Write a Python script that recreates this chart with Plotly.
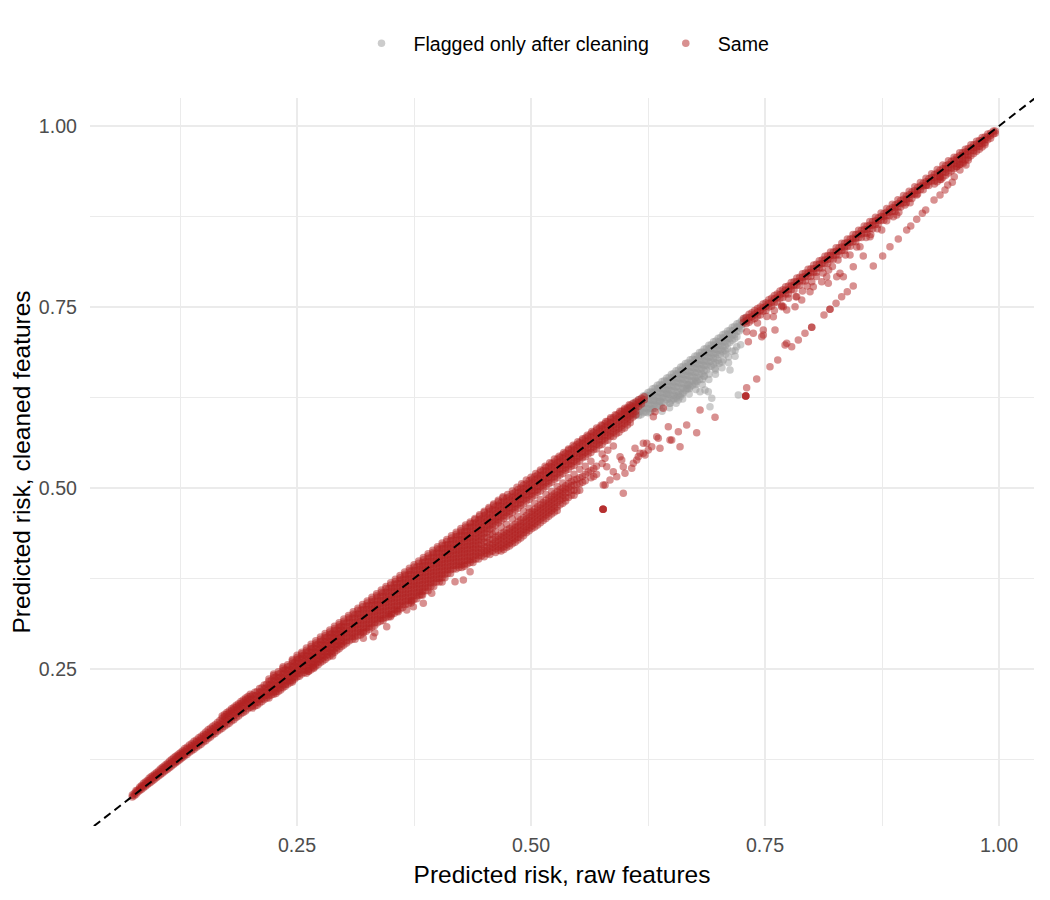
import plotly.graph_objects as go

# ---- "Same" points: dense band, one list of y values per x column ----
band_low_x = [0.074, 0.078, 0.082, 0.086, 0.090, 0.094, 0.098, 0.102, 0.106, 0.110,
              0.114, 0.118, 0.122, 0.126, 0.130, 0.135, 0.140, 0.145, 0.150, 0.155,
              0.160, 0.165, 0.170, 0.175, 0.180, 0.185, 0.190, 0.195, 0.200]
band_low_y = [
    [0.076, 0.073], [0.080, 0.077, 0.082], [0.085, 0.082, 0.087], [0.089, 0.086, 0.092],
    [0.093, 0.090, 0.096], [0.098, 0.094, 0.101], [0.102, 0.098, 0.105], [0.106, 0.102, 0.109],
    [0.111, 0.106, 0.114], [0.115, 0.110, 0.118], [0.119, 0.114, 0.123], [0.123, 0.118, 0.127],
    [0.128, 0.122, 0.131, 0.125], [0.132, 0.126, 0.135, 0.129], [0.136, 0.130, 0.140, 0.133],
    [0.141, 0.135, 0.145, 0.138], [0.146, 0.139, 0.150, 0.143], [0.151, 0.144, 0.155, 0.148],
    [0.157, 0.149, 0.160, 0.153], [0.162, 0.154, 0.166, 0.158], [0.167, 0.159, 0.171, 0.163],
    [0.172, 0.164, 0.176, 0.168], [0.177, 0.168, 0.182, 0.173, 0.185],
    [0.182, 0.173, 0.187, 0.178, 0.190], [0.188, 0.178, 0.192, 0.183, 0.195],
    [0.193, 0.183, 0.197, 0.188, 0.200], [0.198, 0.188, 0.202, 0.193, 0.205],
    [0.203, 0.192, 0.207, 0.198, 0.210], [0.208, 0.197, 0.212, 0.203, 0.215],
]
band_low_b_x = [0.076, 0.080, 0.084, 0.088, 0.092, 0.096, 0.100, 0.104, 0.108, 0.112,
                0.116, 0.120, 0.124, 0.128, 0.1325, 0.1375, 0.1425, 0.1475, 0.1525, 0.1575,
                0.1625, 0.1675, 0.1725, 0.1775, 0.1825, 0.1875, 0.1925, 0.1975]
band_low_b_y = [
    [0.078, 0.075], [0.083, 0.080], [0.087, 0.084, 0.089], [0.091, 0.088, 0.094],
    [0.096, 0.092, 0.099], [0.100, 0.096, 0.103], [0.104, 0.100, 0.107], [0.108, 0.104, 0.112],
    [0.113, 0.108, 0.116], [0.117, 0.112, 0.120], [0.121, 0.116, 0.125],
    [0.125, 0.120, 0.129, 0.122], [0.130, 0.124, 0.133, 0.127], [0.134, 0.128, 0.137, 0.131],
    [0.139, 0.132, 0.142, 0.135], [0.144, 0.137, 0.147, 0.140], [0.149, 0.142, 0.152, 0.145],
    [0.154, 0.146, 0.157, 0.150], [0.159, 0.151, 0.163, 0.155], [0.164, 0.156, 0.168, 0.160],
    [0.169, 0.161, 0.173, 0.165], [0.174, 0.166, 0.179, 0.170],
    [0.180, 0.171, 0.184, 0.175, 0.187], [0.185, 0.175, 0.189, 0.180, 0.192],
    [0.190, 0.180, 0.194, 0.185, 0.197], [0.195, 0.185, 0.199, 0.190, 0.202],
    [0.200, 0.190, 0.204, 0.195, 0.207], [0.205, 0.195, 0.209, 0.200, 0.212],
]

band_mid_x = [0.205, 0.210, 0.215, 0.220, 0.225, 0.230, 0.235, 0.240, 0.245, 0.250,
              0.255, 0.260, 0.265, 0.270, 0.275, 0.280, 0.285, 0.290, 0.295, 0.300]
band_mid_y = [
    [0.218, 0.213, 0.208, 0.203, 0.199],
    [0.223, 0.218, 0.213, 0.208, 0.203],
    [0.228, 0.223, 0.218, 0.213, 0.208],
    [0.233, 0.228, 0.223, 0.218, 0.213, 0.210],
    [0.238, 0.233, 0.228, 0.223, 0.218, 0.215],
    [0.243, 0.238, 0.233, 0.228, 0.223, 0.219],
    [0.248, 0.243, 0.238, 0.233, 0.228, 0.224],
    [0.253, 0.248, 0.243, 0.238, 0.233, 0.229],
    [0.258, 0.253, 0.248, 0.243, 0.238, 0.234],
    [0.263, 0.258, 0.253, 0.248, 0.243, 0.239],
    [0.268, 0.263, 0.258, 0.253, 0.248, 0.243],
    [0.273, 0.268, 0.263, 0.258, 0.253, 0.248, 0.244],
    [0.278, 0.273, 0.268, 0.263, 0.258, 0.253, 0.249],
    [0.283, 0.278, 0.273, 0.268, 0.263, 0.258, 0.254],
    [0.288, 0.283, 0.278, 0.273, 0.268, 0.263, 0.259],
    [0.293, 0.288, 0.283, 0.278, 0.273, 0.268, 0.263],
    [0.298, 0.293, 0.288, 0.283, 0.278, 0.273, 0.268],
    [0.303, 0.298, 0.293, 0.288, 0.283, 0.278, 0.273],
    [0.308, 0.303, 0.298, 0.293, 0.288, 0.283, 0.278],
    [0.313, 0.308, 0.303, 0.298, 0.293, 0.288, 0.283],
]
band_mid_b_x = [0.2025, 0.2075, 0.2125, 0.2175, 0.2225, 0.2275, 0.2325, 0.2375, 0.2425, 0.2475,
                0.2525, 0.2575, 0.2625, 0.2675, 0.2725, 0.2775, 0.2825, 0.2875, 0.2925, 0.2975]
band_mid_b_y = [
    [0.214, 0.209, 0.204, 0.199, 0.196],
    [0.219, 0.214, 0.209, 0.204, 0.200],
    [0.224, 0.219, 0.214, 0.209, 0.205],
    [0.229, 0.224, 0.219, 0.214, 0.210],
    [0.234, 0.229, 0.224, 0.219, 0.214],
    [0.239, 0.234, 0.229, 0.224, 0.219, 0.216],
    [0.244, 0.239, 0.234, 0.229, 0.224, 0.221],
    [0.249, 0.244, 0.239, 0.234, 0.229, 0.226],
    [0.254, 0.249, 0.244, 0.239, 0.234, 0.231],
    [0.259, 0.254, 0.249, 0.244, 0.239, 0.236],
    [0.264, 0.259, 0.254, 0.249, 0.244, 0.240],
    [0.269, 0.264, 0.259, 0.254, 0.249, 0.245],
    [0.274, 0.269, 0.264, 0.259, 0.254, 0.250, 0.247],
    [0.279, 0.274, 0.269, 0.264, 0.259, 0.255, 0.252],
    [0.284, 0.279, 0.274, 0.269, 0.264, 0.260, 0.256],
    [0.289, 0.284, 0.279, 0.274, 0.269, 0.265, 0.261],
    [0.294, 0.289, 0.284, 0.279, 0.274, 0.270, 0.266],
    [0.299, 0.294, 0.289, 0.284, 0.279, 0.275, 0.271],
    [0.304, 0.299, 0.294, 0.289, 0.284, 0.280, 0.276],
    [0.309, 0.304, 0.299, 0.294, 0.289, 0.285, 0.281],
]

band_wide_x = [0.306, 0.312, 0.318, 0.324, 0.330, 0.336, 0.342, 0.348, 0.354, 0.360,
               0.366, 0.372, 0.378, 0.384, 0.390, 0.396, 0.402, 0.408, 0.414, 0.420]
band_wide_y = [
    [0.319, 0.314, 0.309, 0.304, 0.299, 0.294, 0.289],
    [0.325, 0.320, 0.315, 0.310, 0.305, 0.300, 0.295, 0.291],
    [0.331, 0.326, 0.321, 0.316, 0.311, 0.306, 0.301, 0.297],
    [0.337, 0.332, 0.327, 0.322, 0.317, 0.312, 0.307, 0.302],
    [0.343, 0.338, 0.333, 0.328, 0.323, 0.318, 0.313, 0.308],
    [0.349, 0.344, 0.339, 0.334, 0.329, 0.324, 0.319, 0.314],
    [0.355, 0.350, 0.345, 0.340, 0.335, 0.330, 0.325, 0.320, 0.317],
    [0.361, 0.356, 0.351, 0.346, 0.341, 0.336, 0.331, 0.326, 0.322],
    [0.367, 0.362, 0.357, 0.352, 0.347, 0.342, 0.337, 0.332, 0.327],
    [0.373, 0.368, 0.363, 0.358, 0.353, 0.348, 0.343, 0.338, 0.333],
    [0.379, 0.374, 0.369, 0.364, 0.359, 0.354, 0.349, 0.344, 0.339],
    [0.385, 0.380, 0.375, 0.370, 0.365, 0.360, 0.355, 0.350, 0.345, 0.341],
    [0.391, 0.386, 0.381, 0.376, 0.371, 0.366, 0.361, 0.356, 0.351, 0.347],
    [0.397, 0.392, 0.387, 0.382, 0.377, 0.372, 0.367, 0.362, 0.357, 0.352],
    [0.403, 0.398, 0.393, 0.388, 0.383, 0.378, 0.373, 0.368, 0.363, 0.358],
    [0.409, 0.404, 0.399, 0.394, 0.389, 0.384, 0.379, 0.374, 0.369, 0.364],
    [0.415, 0.410, 0.405, 0.400, 0.395, 0.390, 0.385, 0.380, 0.375, 0.370],
    [0.421, 0.416, 0.411, 0.406, 0.401, 0.396, 0.391, 0.386, 0.381, 0.376],
    [0.427, 0.422, 0.417, 0.412, 0.407, 0.402, 0.397, 0.392, 0.387, 0.382],
    [0.433, 0.428, 0.423, 0.418, 0.413, 0.408, 0.403, 0.398, 0.393, 0.388],
]
band_wide_b_x = [0.303, 0.309, 0.315, 0.321, 0.327, 0.333, 0.339, 0.345, 0.351, 0.357,
                 0.363, 0.369, 0.375, 0.381, 0.387, 0.393, 0.399, 0.405, 0.411, 0.417]
band_wide_b_y = [
    [0.314, 0.309, 0.304, 0.299, 0.294, 0.289, 0.286],
    [0.320, 0.315, 0.310, 0.305, 0.300, 0.295, 0.291],
    [0.326, 0.321, 0.316, 0.311, 0.306, 0.301, 0.296],
    [0.332, 0.327, 0.322, 0.317, 0.312, 0.307, 0.302, 0.300],
    [0.338, 0.333, 0.328, 0.323, 0.318, 0.313, 0.308, 0.305],
    [0.344, 0.339, 0.334, 0.329, 0.324, 0.319, 0.314, 0.310],
    [0.350, 0.345, 0.340, 0.335, 0.330, 0.325, 0.320, 0.316],
    [0.356, 0.351, 0.346, 0.341, 0.336, 0.331, 0.326, 0.321],
    [0.362, 0.357, 0.352, 0.347, 0.342, 0.337, 0.332, 0.327, 0.325],
    [0.368, 0.363, 0.358, 0.353, 0.348, 0.343, 0.338, 0.333, 0.330],
    [0.374, 0.369, 0.364, 0.359, 0.354, 0.349, 0.344, 0.339, 0.335],
    [0.380, 0.375, 0.370, 0.365, 0.360, 0.355, 0.350, 0.345, 0.340],
    [0.386, 0.381, 0.376, 0.371, 0.366, 0.361, 0.356, 0.351, 0.346],
    [0.392, 0.387, 0.382, 0.377, 0.372, 0.367, 0.362, 0.357, 0.352],
    [0.398, 0.393, 0.388, 0.383, 0.378, 0.373, 0.368, 0.363, 0.358],
    [0.404, 0.399, 0.394, 0.389, 0.384, 0.379, 0.374, 0.369, 0.364],
    [0.410, 0.405, 0.400, 0.395, 0.390, 0.385, 0.380, 0.375, 0.370],
    [0.416, 0.411, 0.406, 0.401, 0.396, 0.391, 0.386, 0.381, 0.376],
    [0.422, 0.417, 0.412, 0.407, 0.402, 0.397, 0.392, 0.387, 0.382],
    [0.428, 0.423, 0.418, 0.413, 0.408, 0.403, 0.398, 0.393, 0.388],
]

band_split_x = [0.426, 0.432, 0.438, 0.444, 0.450, 0.456, 0.462, 0.468, 0.474, 0.480,
                0.486, 0.492, 0.498, 0.504, 0.510, 0.516, 0.522, 0.528, 0.534, 0.540,
                0.546, 0.552, 0.558, 0.564, 0.570, 0.576, 0.582, 0.588, 0.594, 0.600,
                0.606, 0.612, 0.618]
band_split_y = [
    [0.439, 0.434, 0.429, 0.424, 0.419, 0.414, 0.409, 0.404, 0.399, 0.394, 0.390],
    [0.445, 0.440, 0.435, 0.430, 0.425, 0.420, 0.415, 0.410, 0.405, 0.400, 0.395],
    [0.451, 0.446, 0.441, 0.436, 0.431, 0.426, 0.421, 0.416, 0.411, 0.406, 0.401, 0.397],
    [0.456, 0.451, 0.446, 0.441, 0.436, 0.431, 0.426, 0.421, 0.416, 0.411, 0.406, 0.402],
    [0.462, 0.457, 0.452, 0.447, 0.442, 0.437, 0.431, 0.425, 0.419, 0.414, 0.409, 0.405],
    [0.468, 0.463, 0.458, 0.453, 0.448, 0.443, 0.436, 0.428, 0.422, 0.417, 0.412, 0.408],
    [0.474, 0.469, 0.464, 0.459, 0.454, 0.449, 0.440, 0.432, 0.426, 0.421, 0.416, 0.411],
    [0.480, 0.475, 0.470, 0.465, 0.460, 0.455, 0.446, 0.437, 0.432, 0.427, 0.422, 0.417, 0.413],
    [0.486, 0.481, 0.476, 0.471, 0.466, 0.461, 0.450, 0.442, 0.437, 0.432, 0.427, 0.422, 0.418],
    [0.492, 0.487, 0.482, 0.477, 0.472, 0.466, 0.457, 0.447, 0.442, 0.437, 0.432, 0.427, 0.423],
    [0.498, 0.493, 0.488, 0.483, 0.478, 0.472, 0.461, 0.453, 0.447, 0.442, 0.437, 0.432, 0.428],
    [0.504, 0.499, 0.494, 0.489, 0.484, 0.478, 0.468, 0.459, 0.453, 0.448, 0.443, 0.438, 0.434],
    [0.510, 0.505, 0.500, 0.495, 0.490, 0.484, 0.472, 0.466, 0.460, 0.455, 0.450, 0.445, 0.441],
    [0.516, 0.511, 0.506, 0.501, 0.496, 0.490, 0.479, 0.471, 0.466, 0.461, 0.456, 0.451, 0.446],
    [0.522, 0.517, 0.512, 0.507, 0.502, 0.496, 0.484, 0.477, 0.472, 0.467, 0.462, 0.457, 0.452],
    [0.528, 0.523, 0.518, 0.513, 0.508, 0.502, 0.491, 0.483, 0.478, 0.473, 0.468, 0.463, 0.458],
    [0.534, 0.529, 0.524, 0.519, 0.514, 0.508, 0.495, 0.489, 0.484, 0.479, 0.474, 0.469, 0.464],
    [0.540, 0.535, 0.530, 0.525, 0.520, 0.514, 0.502, 0.495, 0.490, 0.485, 0.480, 0.474, 0.469],
    [0.546, 0.541, 0.536, 0.531, 0.526, 0.520, 0.507, 0.500, 0.495, 0.490, 0.485, 0.479],
    [0.552, 0.547, 0.542, 0.537, 0.532, 0.526, 0.514, 0.506, 0.500, 0.494, 0.487],
    [0.557, 0.552, 0.547, 0.542, 0.537, 0.531, 0.519, 0.511, 0.504, 0.497, 0.490],
    [0.563, 0.558, 0.553, 0.548, 0.543, 0.537, 0.526, 0.514, 0.506, 0.497],
    [0.569, 0.564, 0.559, 0.554, 0.549, 0.543, 0.530, 0.519, 0.510],
    [0.575, 0.570, 0.565, 0.560, 0.555, 0.549, 0.537, 0.524, 0.514],
    [0.580, 0.575, 0.570, 0.565, 0.560, 0.554, 0.530, 0.519],
    [0.586, 0.581, 0.576, 0.571, 0.566, 0.560, 0.547, 0.534],
    [0.592, 0.587, 0.582, 0.577, 0.572, 0.566, 0.552],
    [0.597, 0.592, 0.587, 0.582, 0.577, 0.571, 0.558],
    [0.603, 0.598, 0.593, 0.588, 0.583, 0.577],
    [0.608, 0.604, 0.599, 0.594, 0.589, 0.583],
    [0.614, 0.610, 0.605, 0.600, 0.595, 0.590],
    [0.619, 0.615, 0.611, 0.606, 0.601],
    [0.624, 0.620, 0.616],
]
band_split_b_x = [0.423, 0.429, 0.435, 0.441, 0.447, 0.453, 0.459, 0.465, 0.471, 0.477,
                  0.483, 0.489, 0.495, 0.501, 0.507, 0.513, 0.519, 0.525, 0.531, 0.537,
                  0.543, 0.549, 0.555, 0.561, 0.567, 0.573, 0.579, 0.585, 0.591, 0.597,
                  0.603, 0.609, 0.615, 0.621]
band_split_b_y = [
    [0.434, 0.429, 0.424, 0.419, 0.414, 0.409, 0.404, 0.399, 0.394, 0.390],
    [0.440, 0.435, 0.430, 0.425, 0.420, 0.415, 0.410, 0.405, 0.400, 0.395, 0.392],
    [0.446, 0.441, 0.436, 0.431, 0.426, 0.421, 0.416, 0.411, 0.406, 0.401, 0.397],
    [0.452, 0.447, 0.442, 0.437, 0.432, 0.427, 0.422, 0.417, 0.412, 0.407, 0.402],
    [0.458, 0.453, 0.448, 0.443, 0.438, 0.433, 0.428, 0.422, 0.416, 0.411, 0.406],
    [0.464, 0.459, 0.454, 0.449, 0.444, 0.439, 0.432, 0.425, 0.419, 0.414, 0.409],
    [0.470, 0.465, 0.460, 0.455, 0.450, 0.445, 0.436, 0.429, 0.423, 0.418, 0.413],
    [0.476, 0.471, 0.466, 0.461, 0.456, 0.452, 0.434, 0.429, 0.424, 0.419, 0.414],
    [0.482, 0.477, 0.472, 0.467, 0.462, 0.458, 0.439, 0.434, 0.429, 0.424, 0.419, 0.415],
    [0.488, 0.483, 0.478, 0.473, 0.468, 0.464, 0.444, 0.439, 0.434, 0.429, 0.424, 0.420],
    [0.494, 0.489, 0.484, 0.479, 0.474, 0.470, 0.450, 0.445, 0.440, 0.435, 0.430, 0.425],
    [0.500, 0.495, 0.490, 0.485, 0.480, 0.476, 0.456, 0.451, 0.446, 0.441, 0.436, 0.431],
    [0.506, 0.501, 0.496, 0.491, 0.486, 0.482, 0.462, 0.457, 0.452, 0.447, 0.442, 0.438],
    [0.512, 0.507, 0.502, 0.497, 0.492, 0.488, 0.468, 0.463, 0.458, 0.453, 0.448, 0.444],
    [0.518, 0.513, 0.508, 0.503, 0.498, 0.494, 0.474, 0.469, 0.464, 0.459, 0.454, 0.449],
    [0.524, 0.519, 0.514, 0.509, 0.504, 0.500, 0.480, 0.475, 0.470, 0.465, 0.460, 0.455],
    [0.530, 0.525, 0.520, 0.515, 0.510, 0.506, 0.486, 0.481, 0.476, 0.471, 0.466, 0.461],
    [0.536, 0.531, 0.526, 0.521, 0.516, 0.512, 0.492, 0.487, 0.482, 0.477, 0.472, 0.467],
    [0.542, 0.537, 0.532, 0.527, 0.522, 0.518, 0.498, 0.493, 0.488, 0.483, 0.477],
    [0.548, 0.543, 0.538, 0.533, 0.528, 0.524, 0.503, 0.498, 0.493, 0.487, 0.482],
    [0.554, 0.549, 0.544, 0.539, 0.534, 0.530, 0.509, 0.503, 0.497, 0.490],
    [0.560, 0.555, 0.550, 0.545, 0.540, 0.536, 0.512, 0.505, 0.496],
    [0.566, 0.561, 0.556, 0.551, 0.546, 0.542, 0.516, 0.508],
    [0.571, 0.566, 0.561, 0.556, 0.551, 0.547, 0.522],
    [0.577, 0.572, 0.567, 0.562, 0.557, 0.553, 0.527, 0.516],
    [0.583, 0.578, 0.573, 0.568, 0.563, 0.559],
    [0.589, 0.584, 0.579, 0.574, 0.569, 0.565, 0.541],
    [0.595, 0.590, 0.585, 0.580, 0.575, 0.571],
    [0.600, 0.595, 0.590, 0.585, 0.580, 0.575],
    [0.606, 0.601, 0.596, 0.591, 0.586, 0.581],
    [0.611, 0.607, 0.602, 0.597, 0.592, 0.587],
    [0.617, 0.612, 0.608, 0.603, 0.598],
    [0.622, 0.618, 0.613],
    [0.626, 0.622],
]

# upper fringe of the band, above the diagonal
band_upper_x = [0.220, 0.225, 0.230, 0.235, 0.240, 0.245, 0.250, 0.255, 0.260, 0.265,
                0.270, 0.275, 0.280, 0.285, 0.290, 0.295, 0.300, 0.305, 0.310, 0.315,
                0.320, 0.325, 0.330, 0.335, 0.340, 0.345, 0.350, 0.355, 0.360, 0.365,
                0.370, 0.375, 0.380, 0.385, 0.390, 0.395, 0.400, 0.405, 0.410, 0.415,
                0.420, 0.425, 0.430, 0.435, 0.440, 0.445, 0.450, 0.455, 0.460, 0.465,
                0.470, 0.475, 0.480, 0.485, 0.490, 0.495, 0.500, 0.505, 0.510, 0.515,
                0.520, 0.525, 0.530, 0.535, 0.540, 0.545, 0.550, 0.555, 0.560, 0.565,
                0.570, 0.575, 0.580, 0.585, 0.590, 0.595, 0.600, 0.605]
band_upper_y = [
    [0.236], [0.241, 0.243], [0.246], [0.251, 0.253], [0.256], [0.261, 0.263], [0.266, 0.269],
    [0.271, 0.273], [0.276, 0.279], [0.281, 0.284], [0.286, 0.289], [0.291, 0.294],
    [0.296, 0.299], [0.301, 0.304], [0.306, 0.309], [0.311, 0.314], [0.316, 0.319],
    [0.321, 0.324], [0.326, 0.329], [0.331, 0.334], [0.336, 0.339], [0.341, 0.344],
    [0.346, 0.349], [0.351, 0.354], [0.356, 0.359], [0.361, 0.364], [0.366, 0.369],
    [0.371, 0.374], [0.376, 0.379], [0.381, 0.384], [0.386, 0.389], [0.391, 0.394],
    [0.396, 0.399], [0.401, 0.404], [0.406, 0.409], [0.411, 0.414], [0.416, 0.419],
    [0.421, 0.424], [0.426, 0.429], [0.431, 0.434], [0.436, 0.439], [0.441, 0.444],
    [0.446, 0.449], [0.451, 0.453], [0.456, 0.458], [0.461, 0.463], [0.466, 0.468],
    [0.471, 0.473], [0.476, 0.478], [0.481, 0.483], [0.486, 0.488], [0.491], [0.496],
    [0.501], [0.506], [0.511], [0.515], [0.520], [0.525], [0.530], [0.535], [0.540],
    [0.544], [0.549], [0.554], [0.559], [0.564], [0.568], [0.573], [0.578], [0.583],
    [0.587], [0.592], [0.597], [0.601], [0.606], [0.610], [0.615],
]

band_top_x = [0.727, 0.733, 0.739, 0.745, 0.751, 0.757, 0.763, 0.769, 0.775, 0.781,
              0.787, 0.793, 0.799, 0.805, 0.811, 0.817, 0.823, 0.829, 0.835, 0.841,
              0.847, 0.853, 0.859, 0.865, 0.871, 0.877, 0.883, 0.889, 0.895, 0.901,
              0.907, 0.913, 0.919, 0.925, 0.931, 0.937, 0.943, 0.949, 0.955, 0.961,
              0.967, 0.973, 0.979, 0.985, 0.991, 0.996]
band_top_y = [
    [0.734, 0.729], [0.740, 0.735, 0.729], [0.745, 0.740, 0.734], [0.750, 0.745, 0.739],
    [0.756, 0.751, 0.745], [0.762, 0.757, 0.751], [0.768, 0.763, 0.757], [0.774, 0.769, 0.763],
    [0.779, 0.774, 0.768], [0.785, 0.780, 0.774], [0.791, 0.786, 0.780], [0.797, 0.792, 0.786],
    [0.803, 0.798, 0.792], [0.809, 0.804, 0.798], [0.815, 0.810, 0.804], [0.821, 0.816, 0.810],
    [0.826, 0.821, 0.816], [0.832, 0.827, 0.822], [0.838, 0.833, 0.828], [0.844, 0.839, 0.834],
    [0.850, 0.845, 0.840], [0.856, 0.851, 0.846], [0.862, 0.857, 0.852], [0.868, 0.863, 0.858],
    [0.873, 0.869, 0.864], [0.879, 0.875, 0.870], [0.885, 0.881, 0.876], [0.891, 0.887, 0.882],
    [0.897, 0.893, 0.888], [0.903, 0.899, 0.894], [0.909, 0.905, 0.900], [0.915, 0.911, 0.906],
    [0.921, 0.917, 0.912], [0.927, 0.923, 0.918], [0.933, 0.929, 0.924, 0.920],
    [0.939, 0.935, 0.930, 0.926], [0.945, 0.941, 0.936, 0.932], [0.951, 0.947, 0.942, 0.938],
    [0.957, 0.953, 0.948, 0.944], [0.963, 0.959, 0.954, 0.950], [0.969, 0.965, 0.960, 0.956],
    [0.974, 0.970, 0.966, 0.962], [0.980, 0.976, 0.972, 0.968], [0.985, 0.981, 0.977, 0.974],
    [0.990, 0.987, 0.983], [0.993, 0.990],
]
band_top_b_x = [0.730, 0.736, 0.742, 0.748, 0.754, 0.760, 0.766, 0.772, 0.778, 0.784,
                0.790, 0.796, 0.802, 0.808, 0.814, 0.820, 0.826, 0.832, 0.838, 0.844,
                0.850, 0.856, 0.862, 0.868, 0.874, 0.880, 0.886, 0.892, 0.898, 0.904,
                0.910, 0.916, 0.922, 0.928, 0.934, 0.940, 0.946, 0.952, 0.958, 0.964,
                0.970, 0.976, 0.982, 0.988, 0.994]
band_top_b_y = [
    [0.736, 0.731, 0.727], [0.742, 0.737, 0.732], [0.748, 0.743, 0.738], [0.754, 0.749, 0.744],
    [0.760, 0.755, 0.750], [0.766, 0.761, 0.756], [0.772, 0.767, 0.762], [0.778, 0.773, 0.768],
    [0.784, 0.779, 0.774], [0.790, 0.785, 0.780], [0.796, 0.791, 0.786], [0.802, 0.797, 0.792],
    [0.808, 0.803, 0.798], [0.814, 0.809, 0.804], [0.820, 0.815, 0.810], [0.826, 0.821, 0.816],
    [0.832, 0.827, 0.822], [0.838, 0.833, 0.828], [0.844, 0.839, 0.834], [0.850, 0.845, 0.840],
    [0.856, 0.851, 0.846], [0.862, 0.857, 0.852], [0.868, 0.863, 0.858], [0.874, 0.869, 0.864],
    [0.880, 0.875, 0.870], [0.886, 0.881, 0.876], [0.892, 0.887, 0.882], [0.898, 0.893, 0.888],
    [0.904, 0.899, 0.894], [0.910, 0.905, 0.900], [0.916, 0.911, 0.906], [0.922, 0.917, 0.912],
    [0.928, 0.923, 0.918], [0.934, 0.929, 0.924], [0.940, 0.935, 0.930, 0.923],
    [0.946, 0.941, 0.936, 0.929], [0.952, 0.947, 0.942, 0.935], [0.957, 0.953, 0.948, 0.941],
    [0.963, 0.959, 0.954, 0.947], [0.968, 0.964, 0.960, 0.953], [0.974, 0.970, 0.966, 0.959],
    [0.979, 0.975, 0.971, 0.965], [0.984, 0.980, 0.976, 0.971], [0.989, 0.985, 0.981],
    [0.993, 0.989],
]

# ---- "Same" points off the band (outliers and streaks), read one by one ----
same_scatter_x = [
    0.3458, 0.3315, 0.3208, 0.3849, 0.3939, 0.4188, 0.4277, 0.4349, 0.3672, 0.3743,
    0.245, 0.268, 0.288, 0.262, 0.3331, 0.3726, 0.3832, 0.3499, 0.3580, 0.4050,
    0.7304, 0.7322, 0.7375, 0.7482, 0.7482, 0.7607, 0.7589, 0.7678, 0.7732, 0.7785,
    0.7714, 0.7553, 0.7636, 0.7411, 0.7304,
    0.7294, 0.7294, 0.7294, 0.7294,
    0.6806, 0.6966, 0.6770, 0.6663, 0.6503, 0.6592, 0.6360, 0.6378, 0.6290, 0.6200,
    0.6146, 0.6111, 0.6093, 0.5986, 0.6076, 0.5951, 0.6004, 0.5879, 0.5809, 0.5791,
    0.5986, 0.6200, 0.6253, 0.6165, 0.6129, 0.5969, 0.5916, 0.5844, 0.5772,
    0.6236, 0.6218, 0.6325, 0.6307, 0.6413, 0.6467, 0.6574, 0.6485, 0.6343,
    0.5770, 0.5770, 0.5770, 0.5770,
    0.9647, 0.9583, 0.9522, 0.9501, 0.9452, 0.9423, 0.9370, 0.9306,
    0.9217, 0.9181, 0.9121, 0.9057, 0.9014, 0.8924, 0.8835, 0.8757, 0.8657,
    0.8443, 0.8379, 0.8319, 0.8259, 0.8194, 0.8194, 0.8130, 0.7999, 0.7999, 0.7927, 0.7856,
    0.8408, 0.8550, 0.8443, 0.8337, 0.8266, 0.8176, 0.8106, 0.8016, 0.7981, 0.7892,
    0.7821, 0.7732, 0.7465, 0.8747, 0.8871, 0.8622, 0.8515, 0.8301, 0.8159, 0.7839,
    0.7696, 0.8907, 0.9548, 0.9619, 0.9672, 0.9370, 0.9228, 0.9121, 0.8996,
    0.790, 0.800, 0.812, 0.822, 0.836, 0.848, 0.858, 0.870, 0.880, 0.805, 0.818, 0.828,
    0.760, 0.768, 0.775, 0.783, 0.795, 0.742, 0.752, 0.863, 0.893, 0.905, 0.938, 0.958,
]
same_scatter_y = [
    0.3084, 0.2946, 0.2924, 0.3407, 0.3546, 0.3706, 0.3729, 0.3844, 0.3315, 0.3360,
    0.232, 0.251, 0.268, 0.247, 0.3000, 0.3440, 0.3530, 0.3220, 0.3290, 0.3700,
    0.7159, 0.7021, 0.7137, 0.7182, 0.7113, 0.7182, 0.7366, 0.7504, 0.6999, 0.6952,
    0.6975, 0.6675, 0.6768, 0.6506, 0.6385,
    0.6271, 0.6271, 0.6271, 0.6271,
    0.6077, 0.5977, 0.5764, 0.5870, 0.5663, 0.5570, 0.5687, 0.5548, 0.5570, 0.5479,
    0.5432, 0.5548, 0.5341, 0.5294, 0.5272, 0.5432, 0.5203, 0.5225, 0.5294, 0.5041,
    0.4927, 0.5617, 0.5525, 0.5479, 0.5387, 0.5387, 0.5156, 0.5110, 0.5041,
    0.5617, 0.5456, 0.6054, 0.5985, 0.6101, 0.5847, 0.5778, 0.5663, 0.5709,
    0.4705, 0.4705, 0.4705, 0.4705,
    0.9461, 0.9392, 0.9300, 0.9222, 0.9185, 0.9116, 0.9047, 0.8978,
    0.8840, 0.8794, 0.8711, 0.8619, 0.8564, 0.8439, 0.8333, 0.8204, 0.8066,
    0.7790, 0.7711, 0.7642, 0.7551, 0.7468, 0.7468, 0.7390, 0.7220, 0.7220, 0.7137, 0.7044,
    0.8218, 0.8204, 0.8057, 0.7918, 0.7918, 0.7827, 0.7849, 0.7780, 0.7711, 0.7597,
    0.7504, 0.7459, 0.7090, 0.8564, 0.8747, 0.8471, 0.8333, 0.7965, 0.7918, 0.7642,
    0.7504, 0.8771, 0.9438, 0.9485, 0.9530, 0.9300, 0.9185, 0.9047, 0.8909,
    0.772, 0.785, 0.797, 0.806, 0.822, 0.833, 0.846, 0.858, 0.869, 0.792, 0.801, 0.815,
    0.745, 0.752, 0.762, 0.764, 0.779, 0.728, 0.737, 0.850, 0.881, 0.894, 0.926, 0.947,
]

# ---- "Flagged only after cleaning" points ----
flag_band_x = [0.600, 0.605, 0.610, 0.615, 0.620, 0.625, 0.630, 0.635, 0.640, 0.645,
               0.650, 0.655, 0.660, 0.665, 0.670, 0.675, 0.680, 0.685, 0.690, 0.695,
               0.700, 0.705, 0.710, 0.715, 0.720, 0.725, 0.729]
flag_band_y = [
    [0.606, 0.601], [0.611, 0.606, 0.600], [0.617, 0.612, 0.606, 0.600],
    [0.622, 0.617, 0.611, 0.605, 0.600], [0.627, 0.622, 0.616, 0.610, 0.604],
    [0.632, 0.627, 0.621, 0.615, 0.609, 0.604], [0.637, 0.632, 0.626, 0.620, 0.614, 0.609],
    [0.642, 0.637, 0.631, 0.625, 0.619, 0.613], [0.647, 0.642, 0.636, 0.630, 0.624, 0.618],
    [0.652, 0.647, 0.641, 0.635, 0.629, 0.622], [0.657, 0.652, 0.646, 0.640, 0.634, 0.627, 0.621],
    [0.662, 0.657, 0.651, 0.645, 0.639, 0.632, 0.626], [0.667, 0.662, 0.656, 0.650, 0.644, 0.637, 0.630],
    [0.672, 0.667, 0.661, 0.655, 0.649, 0.642, 0.635], [0.677, 0.672, 0.666, 0.660, 0.654, 0.647, 0.640],
    [0.682, 0.677, 0.671, 0.665, 0.659, 0.652, 0.645], [0.687, 0.682, 0.676, 0.670, 0.664, 0.657, 0.650],
    [0.692, 0.687, 0.681, 0.675, 0.669, 0.662, 0.654], [0.697, 0.692, 0.686, 0.680, 0.674, 0.667],
    [0.702, 0.697, 0.691, 0.685, 0.679, 0.671], [0.707, 0.702, 0.696, 0.690, 0.684, 0.676],
    [0.712, 0.707, 0.701, 0.695, 0.688], [0.717, 0.712, 0.706, 0.700, 0.692],
    [0.722, 0.717, 0.711, 0.704], [0.727, 0.722, 0.716, 0.709], [0.731, 0.726, 0.720],
    [0.735, 0.730],
]
flag_band_b_x = [0.6025, 0.6075, 0.6125, 0.6175, 0.6225, 0.6275, 0.6325, 0.6375, 0.6425,
                 0.6475, 0.6525, 0.6575, 0.6625, 0.6675, 0.6725, 0.6775, 0.6825, 0.6875,
                 0.6925, 0.6975, 0.7025, 0.7075, 0.7125, 0.7175, 0.7225, 0.727]
flag_band_b_y = [
    [0.608, 0.603, 0.598], [0.613, 0.608, 0.602], [0.618, 0.613, 0.607, 0.601],
    [0.623, 0.618, 0.612, 0.606, 0.601], [0.628, 0.623, 0.617, 0.611, 0.605],
    [0.633, 0.628, 0.622, 0.616, 0.610, 0.605], [0.638, 0.633, 0.627, 0.621, 0.615, 0.610],
    [0.643, 0.638, 0.632, 0.626, 0.620, 0.614], [0.648, 0.643, 0.637, 0.631, 0.625, 0.619],
    [0.653, 0.648, 0.642, 0.636, 0.630, 0.624], [0.658, 0.653, 0.647, 0.641, 0.635, 0.628, 0.623],
    [0.663, 0.658, 0.652, 0.646, 0.640, 0.633, 0.628], [0.668, 0.663, 0.657, 0.651, 0.645, 0.638, 0.632],
    [0.673, 0.668, 0.662, 0.656, 0.650, 0.643, 0.637], [0.678, 0.673, 0.667, 0.661, 0.655, 0.648, 0.642],
    [0.683, 0.678, 0.672, 0.666, 0.660, 0.653, 0.647], [0.688, 0.683, 0.677, 0.671, 0.665, 0.658],
    [0.693, 0.688, 0.682, 0.676, 0.670, 0.663], [0.698, 0.693, 0.687, 0.681, 0.675, 0.668],
    [0.703, 0.698, 0.692, 0.686, 0.680, 0.673], [0.708, 0.703, 0.697, 0.691, 0.685],
    [0.713, 0.708, 0.702, 0.696, 0.690], [0.718, 0.713, 0.707, 0.701], [0.723, 0.718, 0.712, 0.706],
    [0.728, 0.723, 0.717], [0.732, 0.727],
]
# lower fringe of the flagged cloud
flag_low_x = [0.640, 0.648, 0.655, 0.662, 0.669, 0.676, 0.683, 0.690, 0.697, 0.704, 0.711, 0.718, 0.724]
flag_low_y = [
    [0.611, 0.606], [0.617, 0.611], [0.624, 0.617], [0.630, 0.623], [0.637, 0.630],
    [0.643, 0.636], [0.650, 0.643], [0.657, 0.650], [0.663, 0.657], [0.674, 0.666],
    [0.681, 0.673], [0.690, 0.682], [0.698],
]
flag_scatter_x = [0.6806, 0.6894, 0.6912, 0.6931, 0.6966, 0.7126, 0.7055, 0.7198, 0.6663,
                  0.6681, 0.6574, 0.6485, 0.6592, 0.7215, 0.6378, 0.6307, 0.6450, 0.7080,
                  0.7150, 0.7010, 0.6760, 0.6850, 0.6859]
flag_scatter_y = [0.6330, 0.6330, 0.6123, 0.6239, 0.6653, 0.6630, 0.6768, 0.6952, 0.6377,
                  0.6423, 0.6215, 0.6170, 0.6261, 0.6285, 0.6192, 0.6215, 0.6308, 0.6850,
                  0.6890, 0.6720, 0.6480, 0.6550, 0.6354]

ref_line = [0.0, 1.1]


def flatten(col_x, col_y):
    xs, ys = [], []
    for x, col in zip(col_x, col_y):
        for y in col:
            xs.append(x)
            ys.append(y)
    return xs, ys


same_x, same_y = [], []
for cx, cy in [(band_low_x, band_low_y), (band_low_b_x, band_low_b_y),
               (band_mid_x, band_mid_y), (band_mid_b_x, band_mid_b_y),
               (band_wide_x, band_wide_y), (band_wide_b_x, band_wide_b_y),
               (band_split_x, band_split_y), (band_split_b_x, band_split_b_y),
               (band_upper_x, band_upper_y),
               (band_top_x, band_top_y), (band_top_b_x, band_top_b_y)]:
    fx, fy = flatten(cx, cy)
    same_x += fx
    same_y += fy
same_x += same_scatter_x
same_y += same_scatter_y

flag_x, flag_y = [], []
for cx, cy in [(flag_band_x, flag_band_y), (flag_band_b_x, flag_band_b_y), (flag_low_x, flag_low_y)]:
    fx, fy = flatten(cx, cy)
    flag_x += fx
    flag_y += fy
flag_x += flag_scatter_x
flag_y += flag_scatter_y

fig = go.Figure()
fig.add_trace(go.Scatter(x=flag_x, y=flag_y, mode='markers', name='Flagged only after cleaning',
                         marker=dict(size=7.5, color='rgba(153,153,153,0.5)', line=dict(width=0))))
fig.add_trace(go.Scatter(x=same_x, y=same_y, mode='markers', name='Same',
                         marker=dict(size=7.5, color='rgba(178,34,34,0.5)', line=dict(width=0))))
fig.add_trace(go.Scatter(x=ref_line, y=ref_line, mode='lines', showlegend=False, hoverinfo='skip',
                         line=dict(color='black', width=2, dash='8px,5px')))

axis_style = dict(
    dtick=0.25, tick0=0, tickformat='.2f', showgrid=True, gridcolor='#EBEBEB', gridwidth=1.5,
    zeroline=False, showline=False, ticks='', automargin=False,
    tickfont=dict(size=19.6, color='#4D4D4D'),
    minor=dict(dtick=0.125, showgrid=True, gridcolor='#EBEBEB', gridwidth=0.8),
)
fig.update_xaxes(axis_style, range=[0.0288, 1.0374], ticklabelstandoff=5,
                 title=dict(text='Predicted risk, raw features', font=dict(size=24.5, color='black'),
                            standoff=11))
fig.update_yaxes(axis_style, range=[0.0331, 1.0387], ticklabelstandoff=12,
                 title=dict(text='Predicted risk, cleaned features', font=dict(size=24.5, color='black'),
                            standoff=6))
# the page body adds an 8px offset, so the figure is slightly smaller than the window
fig.update_layout(
    width=1042, height=892,
    margin=dict(l=82, r=16, t=90, b=74),
    paper_bgcolor='white', plot_bgcolor='white',
    font=dict(family='Liberation Sans, Arial, sans-serif', color='black'),
    legend=dict(orientation='h', x=0.5, xanchor='center', y=1.075, yanchor='middle',
                font=dict(size=19.6, color='black'), itemsizing='trace', itemwidth=54),
)
fig.write_html("out.html")
